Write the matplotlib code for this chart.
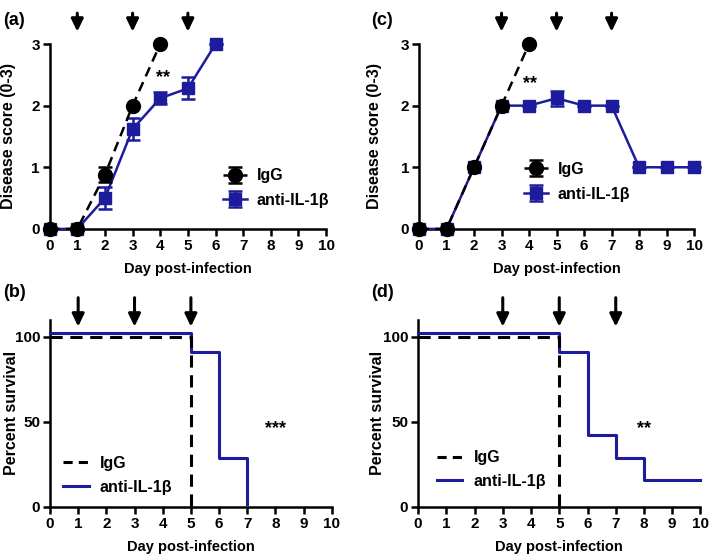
import numpy as np
import matplotlib.pyplot as plt
from matplotlib.lines import Line2D
from matplotlib.transforms import ScaledTranslation

plt.rcParams["font.family"] = ["Liberation Sans", "DejaVu Sans"]
plt.rcParams["font.weight"] = "bold"
plt.rcParams["axes.labelweight"] = "bold"

BLUE = "#1c1c9c"

# (a) disease score, first schedule
days_a_igg = [0, 1, 2, 3, 4]
score_a_igg = [0, 0, 0.88, 2, 3]
err_a_igg = [0, 0, 0.12, 0, 0]
days_a_anti = [0, 1, 2, 3, 4, 5, 6]
score_a_anti = [0, 0, 0.5, 1.62, 2.12, 2.28, 3]
err_a_anti = [0, 0, 0.18, 0.18, 0.1, 0.18, 0]
arrows_a = [1, 3, 5]

# (c) disease score, second schedule
days_c_igg = [0, 1, 2, 3, 4]
score_c_igg = [0, 0, 1, 2, 3]
err_c_igg = [0, 0, 0, 0, 0]
days_c_anti = [0, 1, 2, 3, 4, 5, 6, 7, 8, 9, 10]
score_c_anti = [0, 0, 1, 2, 2, 2.12, 2, 2, 1, 1, 1]
err_c_anti = [0, 0, 0, 0, 0, 0.12, 0, 0, 0, 0, 0]
arrows_c = [3, 5, 7]

# (b) survival, first schedule
surv_b_igg_t = [0, 5, 5]
surv_b_igg = [100, 100, 0]
surv_b_anti_t = [0, 5, 6, 7]
surv_b_anti = [100, 89, 27, 0]

# (d) survival, second schedule
surv_d_igg_t = [0, 5, 5]
surv_d_igg = [100, 100, 0]
surv_d_anti_t = [0, 5, 6, 7, 8, 10]
surv_d_anti = [100, 89, 40, 27, 14, 14]


def style_axes(ax):
    for s in ["top", "right"]:
        ax.spines[s].set_visible(False)
    for s in ["left", "bottom"]:
        ax.spines[s].set_linewidth(1.8)
    ax.tick_params(width=1.8, length=5, labelsize=11, pad=2)
    ax.set_xlim(0, 10)
    ax.set_xticks(range(0, 11))
    ax.set_xlabel("Day post-infection", fontsize=10.5, labelpad=7)


def set_ylabel(ax, text, x):
    ax.set_ylabel(text, fontsize=11.5)
    ax.yaxis.label.set_va("center")
    ax.yaxis.set_label_coords(x, 0.5)


def add_arrows(ax, days, y_tip, y_tail):
    for d in days:
        ax.annotate("", xy=(d, y_tip), xytext=(d, y_tail),
                    annotation_clip=False,
                    arrowprops=dict(arrowstyle="-|>,head_width=0.36,head_length=0.75",
                                    lw=2.2, color="black", mutation_scale=10,
                                    shrinkA=0, shrinkB=0))


def score_panel(ax, d_igg, s_igg, e_igg, d_anti, s_anti, e_anti, arrows, star_xy, leg_loc, ylab_x):
    ax.errorbar(d_anti, s_anti, yerr=e_anti, color=BLUE, lw=1.8, marker="s",
                markersize=9, capsize=5, capthick=1.8, elinewidth=1.8,
                clip_on=False, zorder=3, label="anti-IL-1β")
    ax.errorbar(d_igg, s_igg, yerr=e_igg, color="black", lw=1.8, ls=(0, (4, 2.5)),
                marker="o", markersize=10, capsize=5, capthick=1.8, elinewidth=1.8,
                clip_on=False, zorder=4, label="IgG")
    style_axes(ax)
    ax.set_ylim(0, 3)
    ax.set_yticks([0, 1, 2, 3])
    set_ylabel(ax, "Disease score (0-3)", ylab_x)
    ax.text(star_xy[0], star_xy[1], "**", fontsize=13, ha="center", va="center")
    add_arrows(ax, arrows, 3.2, 3.5)
    h, l = ax.get_legend_handles_labels()
    ax.legend(h[::-1], l[::-1], loc="center", bbox_to_anchor=leg_loc, frameon=False,
              fontsize=11.5, handlelength=1.5, handletextpad=0.6, labelspacing=0.6)


def survival_panel(ax, t_igg, s_igg, t_anti, s_anti, arrows, star_xy, star, leg_loc, ylab_x):
    off = ScaledTranslation(0, 2.5 / 72, ax.figure.dpi_scale_trans)
    ax.step(t_anti, s_anti, where="post", color=BLUE, lw=2.2,
            transform=ax.transData + off, clip_on=False, zorder=3)
    ax.plot(t_igg, s_igg, color="black", lw=2.2, ls=(0, (4, 2.5)), zorder=4)
    style_axes(ax)
    ax.set_ylim(0, 110)
    ax.set_yticks([0, 50, 100])
    set_ylabel(ax, "Percent survival", ylab_x)
    ax.text(star_xy[0], star_xy[1], star, fontsize=13, ha="center", va="center")
    add_arrows(ax, arrows, 106, 123)
    handles = [Line2D([], [], color="black", lw=2.2, ls=(0, (3, 2))),
               Line2D([], [], color=BLUE, lw=2.2)]
    ax.legend(handles, ["IgG", "anti-IL-1\u03b2"], loc="center", bbox_to_anchor=leg_loc,
              frameon=False, fontsize=11.5, handlelength=1.6, handletextpad=0.7,
              labelspacing=0.55)


fig = plt.figure(figsize=(7.09, 5.57), dpi=100)
ax_a = fig.add_axes([0.070, 0.589, 0.390, 0.332])
ax_c = fig.add_axes([0.591, 0.589, 0.388, 0.332])
ax_b = fig.add_axes([0.0705, 0.0898, 0.3975, 0.336])
ax_d = fig.add_axes([0.5896, 0.0898, 0.3984, 0.336])

score_panel(ax_a, days_a_igg, score_a_igg, err_a_igg, days_a_anti, score_a_anti,
            err_a_anti, arrows_a, (4.1, 2.45), (0.82, 0.22), -0.147)
score_panel(ax_c, days_c_igg, score_c_igg, err_c_igg, days_c_anti, score_c_anti,
            err_c_anti, arrows_c, (4.05, 2.35), (0.575, 0.255), -0.163)
survival_panel(ax_b, surv_b_igg_t, surv_b_igg, surv_b_anti_t, surv_b_anti,
               arrows_a, (8.0, 46), "***", (0.24, 0.17), -0.135)
survival_panel(ax_d, surv_d_igg_t, surv_d_igg, surv_d_anti_t, surv_d_anti,
               arrows_c, (8.0, 46), "**", (0.26, 0.20), -0.145)

fig.text(0.005, 0.978, "(a)", fontsize=13, va="top")
fig.text(0.523, 0.978, "(c)", fontsize=13, va="top")
fig.text(0.005, 0.49, "(b)", fontsize=13, va="top")
fig.text(0.523, 0.49, "(d)", fontsize=13, va="top")

fig.savefig("out.png", dpi=100)
